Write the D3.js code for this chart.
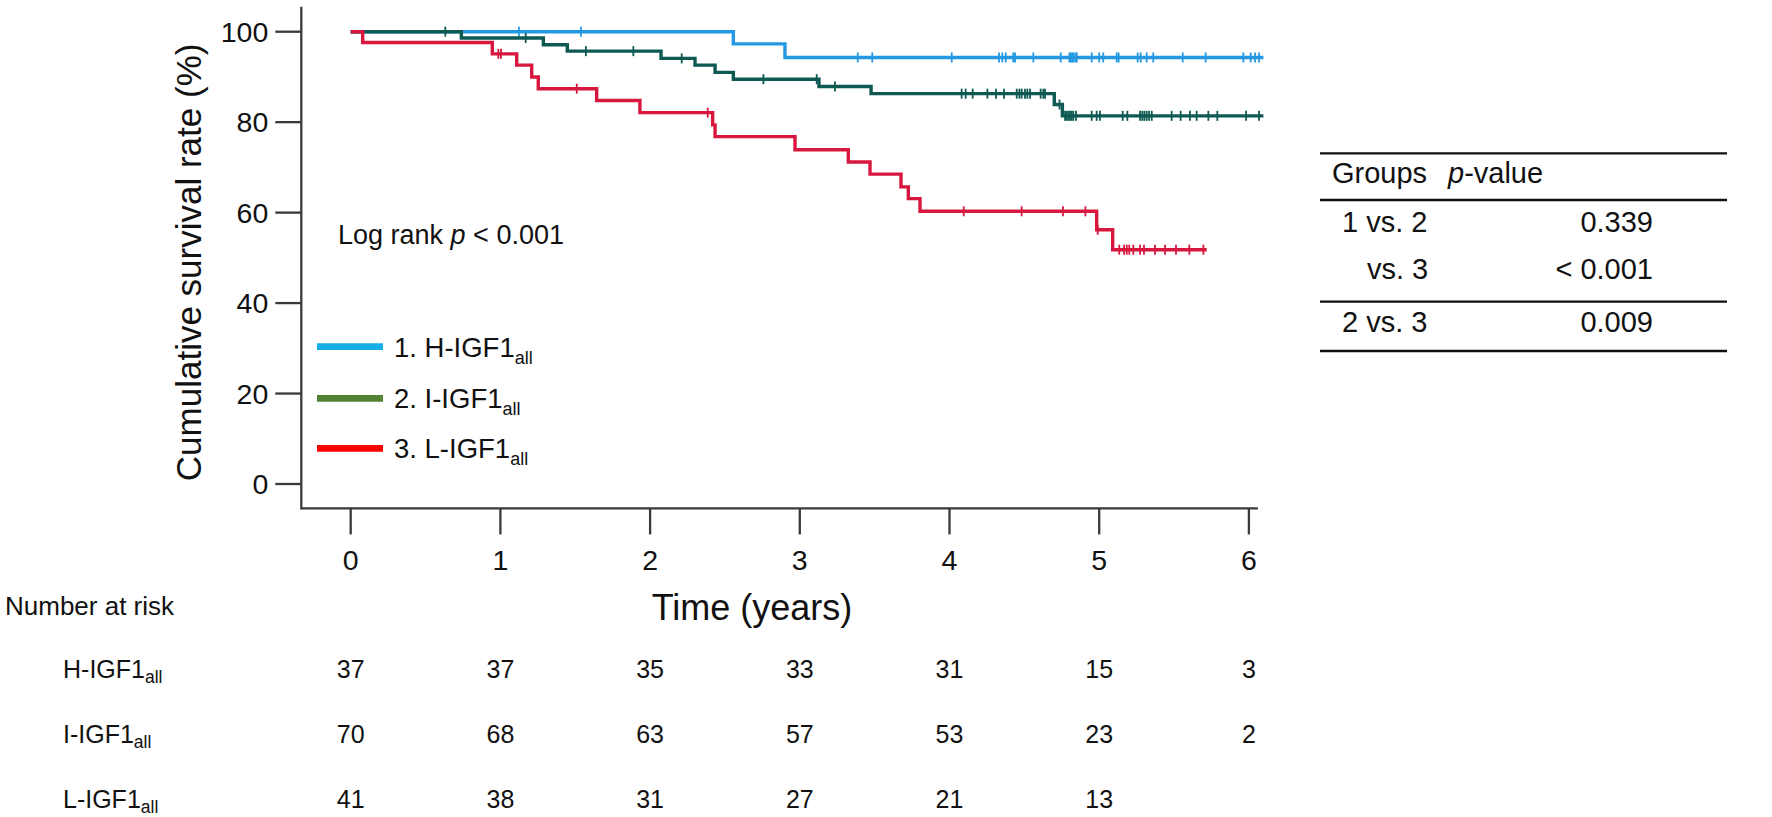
<!DOCTYPE html>
<html>
<head>
<meta charset="utf-8">
<script src="https://cdn.jsdelivr.net/npm/d3@7"></script>
<style>
  body { margin: 0; background: #fff; }
  svg text { font-family: "Liberation Sans", Arial, sans-serif; fill: #111; }
</style>
</head>
<body>
<svg id="chart" width="1772" height="817"></svg>
<script>
// groups
const groups = ["H-IGF1", "I-IGF1", "L-IGF1"]
const groupNums = ["1.", "2.", "3."]

// survival steps: [time (years), survival % after the step]
const stepsH = [[0, 100], [2.556, 97.3], [2.901, 94.3]]
const stepsI = [[0, 100], [0.739, 98.6], [1.287, 97.1], [1.447, 95.7], [2.073, 94.1], [2.30, 92.6],
  [2.434, 91.0], [2.556, 89.5], [3.128, 87.9], [3.476, 86.3], [4.70, 83.9], [4.754, 81.4]]
const stepsL = [[0, 100], [0.08, 97.6], [0.946, 95.1], [1.109, 92.6], [1.209, 90.0], [1.253, 87.4],
  [1.643, 84.8], [1.932, 82.1], [2.418, 79.4], [2.434, 76.8], [2.968, 73.9], [3.324, 71.2],
  [3.469, 68.5], [3.676, 65.7], [3.725, 63.1], [3.803, 60.3], [4.983, 56.2], [5.090, 51.8]]

// last follow-up time for each curve
const endTimes = [6.097, 6.097, 5.718]

// censored times
const censorH = [1.124, 1.538, 3.387, 3.484, 4.015, 4.331, 4.353, 4.376, 4.426, 4.438, 4.560,
  4.743, 4.801, 4.810, 4.819, 4.828, 4.841, 4.850, 4.950, 5.000, 5.027, 5.117, 5.130, 5.257,
  5.277, 5.317, 5.361, 5.558, 5.711, 5.963, 6.012, 6.041, 6.068]
const censorI = [0.632, 1.169, 1.571, 1.888, 2.211, 2.757, 3.113, 3.235, 4.081, 4.108, 4.155,
  4.253, 4.311, 4.364, 4.449, 4.467, 4.482, 4.504, 4.520, 4.538, 4.609, 4.627, 4.638, 4.735,
  4.772, 4.783, 4.794, 4.805, 4.816, 4.827, 4.845, 4.950, 4.983, 5.005, 5.157, 5.188, 5.273,
  5.288, 5.302, 5.317, 5.333, 5.351, 5.484, 5.544, 5.606, 5.651, 5.729, 5.789, 5.981, 6.068]
const censorL = [0.986, 1.004, 1.51, 2.385, 4.095, 4.482, 4.758, 4.908, 4.99, 5.134, 5.166,
  5.184, 5.201, 5.228, 5.273, 5.299, 5.373, 5.440, 5.513, 5.602, 5.696]

// number at risk
const riskTimes = [0, 1, 2, 3, 4, 5, 6]
const riskH = [37, 37, 35, 33, 31, 15, 3]
const riskI = [70, 68, 63, 57, 53, 23, 2]
const riskL = [41, 38, 31, 27, 21, 13, null]

// pairwise comparisons
const pairLabels = ["1 vs. 2", "vs. 3", "2 vs. 3"]
const pairValues = ["0.339", "< 0.001", "0.009"]

const xTicks = [0, 1, 2, 3, 4, 5, 6]
const yTicks = [0, 20, 40, 60, 80, 100]

const curveColors = ["#2598e3", "#0e5a52", "#d7173d"]
const legendColors = ["#14aee9", "#548235", "#ff0000"]

const svg = d3.select("#chart")

const x = d3.scaleLinear().domain([0, 6]).range([350.7, 1248.9])
const y = d3.scaleLinear().domain([0, 100]).range([484, 31.7])

//axes lines
const axisColor = "#3a3a3a"
const xAxisY = y(-5.4)
const yAxisX = x(-0.33)
svg.append("line")
  .attr("x1", yAxisX).attr("x2", yAxisX)
  .attr("y1", y(105.5)).attr("y2", xAxisY + 1)
  .style("stroke", axisColor).style("stroke-width", 2.3)
svg.append("line")
  .attr("x1", yAxisX).attr("x2", x(6.06))
  .attr("y1", xAxisY).attr("y2", xAxisY)
  .style("stroke", axisColor).style("stroke-width", 2.3)

// y ticks
svg.selectAll(".ytick")
  .data(yTicks)
  .join("line")
  .attr("class", "ytick")
  .attr("x1", yAxisX - 26).attr("x2", yAxisX)
  .attr("y1", d => y(d)).attr("y2", d => y(d))
  .style("stroke", axisColor).style("stroke-width", 2.3)
svg.selectAll(".ylab")
  .data(yTicks)
  .join("text")
  .attr("class", "ylab")
  .attr("x", yAxisX - 33)
  .attr("y", d => y(d))
  .attr("dy", "0.35em")
  .attr("text-anchor", "end")
  .style("font-size", "28.5px")
  .text(d => d)

// x ticks
svg.selectAll(".xtick")
  .data(xTicks)
  .join("line")
  .attr("class", "xtick")
  .attr("x1", d => x(d)).attr("x2", d => x(d))
  .attr("y1", xAxisY).attr("y2", xAxisY + 26)
  .style("stroke", axisColor).style("stroke-width", 2.3)
svg.selectAll(".xlab")
  .data(xTicks)
  .join("text")
  .attr("class", "xlab")
  .attr("x", d => x(d))
  .attr("y", xAxisY + 62)
  .attr("text-anchor", "middle")
  .style("font-size", "28.5px")
  .text(d => d)

// axis titles
svg.append("text")
  .attr("transform", "translate(201," + y(49) + ") rotate(-90)")
  .attr("text-anchor", "middle")
  .style("font-size", "35px")
  .text("Cumulative survival rate (%)")
svg.append("text")
  .attr("x", 752).attr("y", 620)
  .attr("text-anchor", "middle")
  .style("font-size", "36px")
  .text("Time (years)")

// curves
const allSteps = [stepsH, stepsI, stepsL]
const allCensor = [censorH, censorI, censorL]

function survAt(steps, t) {
  let s = steps[0][1]
  steps.forEach(d => { if (d[0] <= t) s = d[1] })
  return s
}

const line = d3.line().x(d => x(d[0])).y(d => y(d[1])).curve(d3.curveStepAfter)

allSteps.forEach((steps, i) => {
  let pts = steps.concat([[endTimes[i], steps[steps.length - 1][1]]])
  let g = svg.append("g").attr("class", "curve")
  g.append("path")
    .attr("d", line(pts))
    .attr("fill", "none")
    .style("stroke", curveColors[i])
    .style("stroke-width", 3.4)
  g.selectAll("line")
    .data(allCensor[i])
    .join("line")
    .attr("x1", d => x(d)).attr("x2", d => x(d))
    .attr("y1", d => y(survAt(steps, d)) - 5)
    .attr("y2", d => y(survAt(steps, d)) + 5)
    .style("stroke", curveColors[i])
    .style("stroke-width", 1.8)
})

// log rank text
let lr = svg.append("text").attr("x", 338).attr("y", 244).style("font-size", "27px")
lr.append("tspan").text("Log rank ")
lr.append("tspan").style("font-style", "italic").text("p")
lr.append("tspan").text(" < 0.001")

// legend
const legendY = [346.7, 398.3, 448.3]
groups.forEach((g, i) => {
  svg.append("line")
    .attr("x1", 317).attr("x2", 383)
    .attr("y1", legendY[i]).attr("y2", legendY[i])
    .style("stroke", legendColors[i]).style("stroke-width", 6.7)
  let t = svg.append("text").attr("x", 394).attr("y", legendY[i] + 10).style("font-size", "27.5px")
  t.append("tspan").text(groupNums[i] + " " + g)
  t.append("tspan").attr("dy", 7).style("font-size", "18px").text("all")
})

// number at risk
svg.append("text").attr("x", 5).attr("y", 615).style("font-size", "26px").text("Number at risk")
const riskRows = [riskH, riskI, riskL]
const riskY = [678.3, 743.3, 808.3]
riskRows.forEach((row, i) => {
  let t = svg.append("text").attr("x", 63).attr("y", riskY[i]).style("font-size", "25px")
  t.append("tspan").text(groups[i])
  t.append("tspan").attr("dy", 5).style("font-size", "17.5px").text("all")
  svg.selectAll(".risk" + i)
    .data(riskTimes.filter((d, j) => row[j] != null))
    .join("text")
    .attr("class", "risk" + i)
    .attr("x", d => x(d))
    .attr("y", riskY[i])
    .attr("text-anchor", "middle")
    .style("font-size", "25px")
    .text(d => row[riskTimes.indexOf(d)])
})

// pairwise p-value table
const tLeft = 1320, tRight = 1727
const ruleY = [153.3, 200, 301.7, 351]
svg.selectAll(".rule")
  .data(ruleY)
  .join("line")
  .attr("class", "rule")
  .attr("x1", tLeft).attr("x2", tRight)
  .attr("y1", d => d).attr("y2", d => d)
  .style("stroke", "#111").style("stroke-width", 2.3)

svg.append("text").attr("x", 1332).attr("y", 183).style("font-size", "29px").text("Groups")
let ph = svg.append("text").attr("x", 1448).attr("y", 183).style("font-size", "29px")
ph.append("tspan").style("font-style", "italic").text("p")
ph.append("tspan").text("-value")

const rowBase = [232, 279, 332]
const labelX = [1342, 1367, 1342]
pairLabels.forEach((p, i) => {
  svg.append("text").attr("x", labelX[i]).attr("y", rowBase[i]).style("font-size", "29px").text(p)
  svg.append("text").attr("x", 1653).attr("y", rowBase[i]).attr("text-anchor", "end")
    .style("font-size", "29px").text(pairValues[i])
})
</script>
</body>
</html>
